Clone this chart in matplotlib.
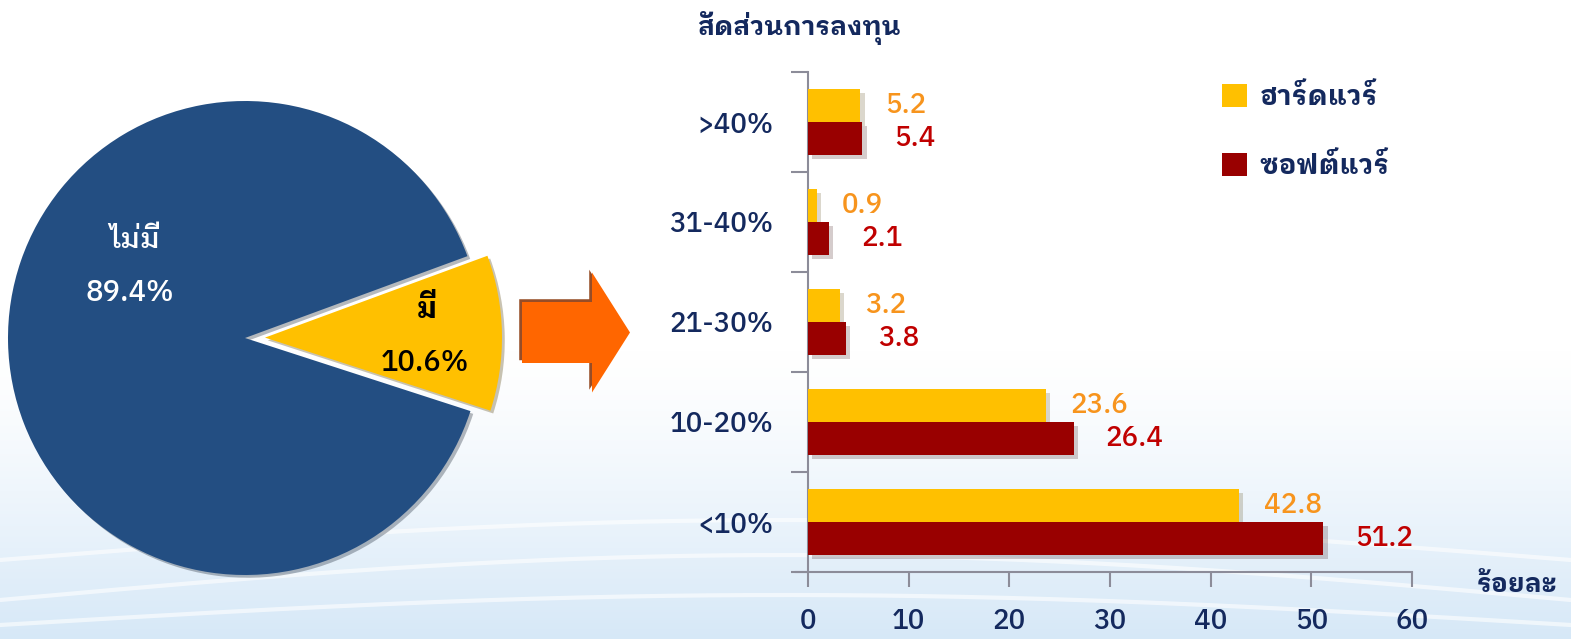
import numpy as np
import matplotlib
matplotlib.use('Agg')
import matplotlib.pyplot as plt
import matplotlib.patheffects as pe
from matplotlib.patches import FancyArrow
from matplotlib.patches import Patch

plt.rcParams['font.family'] = ['IBM Plex Sans Thai Looped', 'Noto Sans', 'DejaVu Sans']
plt.rcParams['font.weight'] = 'medium'

# pie data
pie_labels = ['ไม่มี', 'มี']
pie_values = [89.4, 10.6]
pie_colors = ['#234E82', '#FFC000']

# bar data (bottom to top)
categories = ['<10%', '10-20%', '21-30%', '31-40%', '>40%']
hardware = [42.8, 23.6, 3.2, 0.9, 5.2]
software = [51.2, 26.4, 3.8, 2.1, 5.4]
series_names = ['ฮาร์ดแวร์', 'ซอฟต์แวร์']
bar_colors = ['#FFC000', '#990000']
value_colors = ['#F7941D', '#C00000']
xticks = [0, 10, 20, 30, 40, 50, 60]

navy = '#14295E'
W, H = 1571, 639
fig = plt.figure(figsize=(W / 100, H / 100), dpi=100)

# background gradient
bg = fig.add_axes([0, 0, 1, 1], zorder=-10)
t = np.linspace(0, 1, H)
t = np.clip((t - 0.55) / 0.45, 0, 1) ** 1.3
top = np.array([1.0, 1.0, 1.0])
bot = np.array([0.84, 0.91, 0.97])
grad = top[None, :] * (1 - t[:, None]) + bot[None, :] * t[:, None]
bg.imshow(grad[:, None, :], extent=[0, W, H, 0], aspect='auto')
xx = np.linspace(0, W, 300)
for a, b in [(560, 40), (600, 45), (625, 30)]:
    bg.plot(xx, a - b * np.sin(np.pi * xx / W), color='white', lw=3, alpha=0.6)
bg.set_xlim(0, W)
bg.set_ylim(H, 0)
bg.axis('off')

# overlay in pixel coords (y up)
ov = fig.add_axes([0, 0, 1, 1])
ov.set_facecolor('none')
# explode is in data units (pixels here)
wedges, _ = ov.pie(pie_values, colors=pie_colors, startangle=20.2,
                   center=(245, H - 338), radius=237, explode=[0, 20],
                   wedgeprops=dict(linewidth=0))
for w in wedges:
    w.set_path_effects([pe.SimplePatchShadow(offset=(2, -2), alpha=0.3), pe.Normal()])
ov.text(135, H - 240, pie_labels[0], color='white', fontsize=21, ha='center', va='center')
ov.text(130, H - 293, '%.1f%%' % pie_values[0], color='white', fontsize=21, ha='center', va='center')
ov.text(427, H - 310, pie_labels[1], color='black', fontsize=21, fontweight='bold', ha='center', va='center')
ov.text(425, H - 363, '%.1f%%' % pie_values[1], color='black', fontsize=21, ha='center', va='center')

arr = FancyArrow(522, H - 332.5, 108, 0, width=61, head_width=120, head_length=38,
                 length_includes_head=True, color='#FF6600', lw=0)
arr.set_path_effects([pe.SimplePatchShadow(offset=(-2, 2), shadow_rgbFace='#8B3A0F', alpha=0.9), pe.Normal()])
ov.add_patch(arr)
ov.set_xlim(0, W)
ov.set_ylim(0, H)
ov.set_aspect('auto')
ov.axis('off')

# bar chart
ax = fig.add_axes([808 / W, (H - 572) / H, 604 / W, 500 / H])
ax.set_facecolor('none')
y = np.arange(len(categories))
h = 0.33
shadow = [pe.SimplePatchShadow(offset=(3, -3), alpha=0.2), pe.Normal()]
b1 = ax.barh(y + h / 2, hardware, height=h, color=bar_colors[0], zorder=3)
b2 = ax.barh(y - h / 2, software, height=h, color=bar_colors[1], zorder=3)
for b in list(b1) + list(b2):
    b.set_path_effects(shadow)
for yi, v in zip(y, hardware):
    ax.annotate('%.1f' % v, (v, yi + h / 2), xytext=(18, 0), textcoords='offset points',
                ha='left', va='center', fontsize=20, color=value_colors[0])
for yi, v in zip(y, software):
    ax.annotate('%.1f' % v, (v, yi - h / 2), xytext=(23, 0), textcoords='offset points',
                ha='left', va='center', fontsize=20, color=value_colors[1])

ax.set_xlim(0, 60)
ax.set_ylim(-0.5, len(categories) - 0.5)
ax.set_xticks(xticks)
ax.set_xticklabels([str(v) for v in xticks])
ax.set_yticks(np.arange(len(categories) + 1) - 0.5)
ax.set_yticklabels([])
ax.set_yticks(y, minor=True)
ax.set_yticklabels(categories, minor=True)
ax.tick_params(axis='y', which='major', length=12, width=1.5, color='#8C8C99')
ax.tick_params(axis='y', which='minor', length=0, pad=25, labelsize=20, labelcolor=navy)
ax.tick_params(axis='x', length=11, width=1.5, color='#8C8C99', pad=15, labelsize=20, labelcolor=navy)
for s in ['top', 'right']:
    ax.spines[s].set_visible(False)
for s in ['left', 'bottom']:
    ax.spines[s].set_color('#8C8C99')
    ax.spines[s].set_linewidth(1.5)
ax.spines['bottom'].set_bounds(-1.2, 60)

fig.text(697 / W, 1 - 28 / H, 'สัดส่วนการลงทุน', fontsize=19, fontweight='bold', color=navy, va='center')
fig.text(1517 / W, 1 - 585 / H, 'ร้อยละ', fontsize=19, fontweight='bold', color=navy, va='center', ha='center')

handles = [Patch(facecolor=c, edgecolor='none') for c in bar_colors]
fig.legend(handles, series_names, loc='upper left', bbox_to_anchor=(1222 / W, 1 - 84 / H),
           frameon=False, labelcolor=navy, prop=dict(weight='bold', size=20),
           handlelength=0.9, handleheight=0.9, handletextpad=0.45, labelspacing=1.5,
           borderpad=0, borderaxespad=0)

fig.savefig('out.png', dpi=100)
